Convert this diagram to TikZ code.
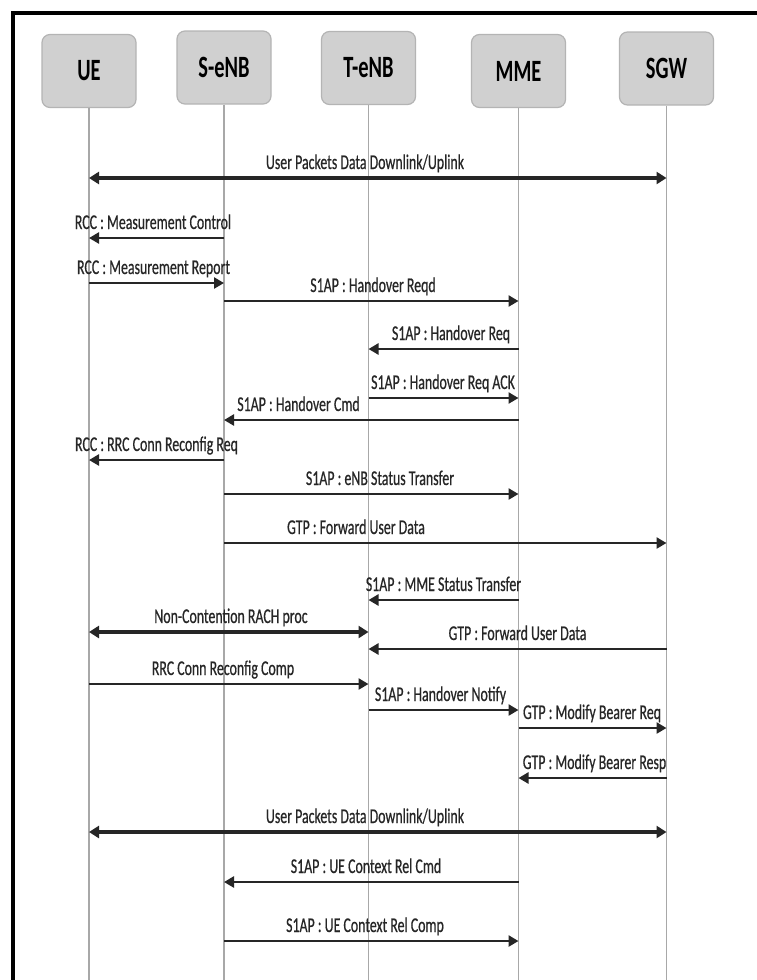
\documentclass[tikz,border=0pt]{standalone}
\usepackage{fontspec}
\setmainfont{Carlito}[FakeStretch=0.66]
\newfontfamily\msgfont{Carlito}[FakeStretch=0.66, FakeBold=0.5]
\usetikzlibrary{arrows.meta}

\definecolor{boxfill}{HTML}{D0D0D0}
\definecolor{boxline}{HTML}{B4B4B4}
\definecolor{lifegray}{HTML}{A8A8A8}
\definecolor{msgcol}{HTML}{262626}

\tikzset{
  entity/.style={draw=boxline, line width=1.2pt, fill=boxfill, rounded corners=8pt,
    minimum width=94pt, minimum height=73pt, inner sep=0pt,
    font=\fontsize{31}{32}\selectfont\bfseries, text=black},
  lifeline/.style={draw=lifegray, line width=1.6pt},
  msgarrow/.style={draw=msgcol, line width=2.6pt, -{Triangle[length=10pt,width=11pt]}},
  dataarrow/.style={draw=msgcol, line width=3.4pt,
    {Triangle[length=10pt,width=12pt]}-{Triangle[length=10pt,width=12pt]}},
  msglabel/.style={anchor=base, inner sep=0pt, text=msgcol,
    font=\msgfont\fontsize{21}{22}\selectfont},
  frameline/.style={draw=black, line width=3.6pt}
}

% one message: style, from, to, y, label centre x, label text
\newcommand\seqmsg[6]{%
  \coordinate (m#4) at (0,#4);
  \draw[#1] (#2 |- m#4) -- (#3 |- m#4);
  \node[msglabel] (l#4) at (#5,#4-9) {#6};}

\begin{document}
\begin{tikzpicture}[x=1pt,y=-1pt]
  \useasboundingbox (0,0) rectangle (756,980);
  \fill[white] (0,0) rectangle (756,980);

  % outer frame (left and top edges)
  \coordinate (fb) at (13,982);
  \coordinate (fc) at (13,13);
  \coordinate (fr) at (758,13);
  \draw[frameline] (fb) -- (fc) -- (fr);

  % participants
  \node[entity] (ue)  at (89,71)    {UE};
  \node[entity] (senb) at (224,67.5) {S-eNB};
  \node[entity] (tenb) at (368.5,68) {T-eNB};
  \node[entity] (mme) at (518.5,71) {MME};
  \node[entity] (sgw) at (666.5,68.5) {SGW};

  % lifelines
  \coordinate (bot) at (0,982);
  \foreach \p in {ue,senb,tenb,mme,sgw}
    \draw[lifeline] (\p.south) -- (\p.south |- bot);

  % messages
  \seqmsg{dataarrow}{ue}{sgw}{178}{365}{User Packets Data Downlink/Uplink}
  \seqmsg{msgarrow}{senb}{ue}{238}{153}{RCC : Measurement Control}
  \seqmsg{msgarrow}{ue}{senb}{283}{153.5}{RCC : Measurement Report}
  \seqmsg{msgarrow}{senb}{mme}{301}{373}{S1AP : Handover Reqd}
  \seqmsg{msgarrow}{mme}{tenb}{349}{451}{S1AP : Handover Req}
  \seqmsg{msgarrow}{tenb}{mme}{398}{443}{S1AP : Handover Req ACK}
  \seqmsg{msgarrow}{mme}{senb}{420}{298.5}{S1AP : Handover Cmd}
  \seqmsg{msgarrow}{senb}{ue}{460}{156.5}{RCC : RRC Conn Reconfig Req}
  \seqmsg{msgarrow}{senb}{mme}{494}{380}{S1AP : eNB Status Transfer}
  \seqmsg{msgarrow}{senb}{sgw}{543}{356}{GTP : Forward User Data}
  \seqmsg{msgarrow}{mme}{tenb}{600}{443.5}{S1AP : MME Status Transfer}
  \seqmsg{dataarrow}{ue}{tenb}{632}{231}{Non-Contention RACH proc}
  \seqmsg{msgarrow}{sgw}{tenb}{649}{517.5}{GTP : Forward User Data}
  \seqmsg{msgarrow}{ue}{tenb}{684}{223}{RRC Conn Reconfig Comp}
  \seqmsg{msgarrow}{tenb}{mme}{710}{440.5}{S1AP : Handover Notify}
  \seqmsg{msgarrow}{mme}{sgw}{728}{592}{GTP : Modify Bearer Req}
  \seqmsg{msgarrow}{sgw}{mme}{778}{594.5}{GTP : Modify Bearer Resp}
  \seqmsg{dataarrow}{ue}{sgw}{832}{365}{User Packets Data Downlink/Uplink}
  \seqmsg{msgarrow}{mme}{senb}{882}{366}{S1AP : UE Context Rel Cmd}
  \seqmsg{msgarrow}{senb}{mme}{941}{365}{S1AP : UE Context Rel Comp}
\end{tikzpicture}
\end{document}
